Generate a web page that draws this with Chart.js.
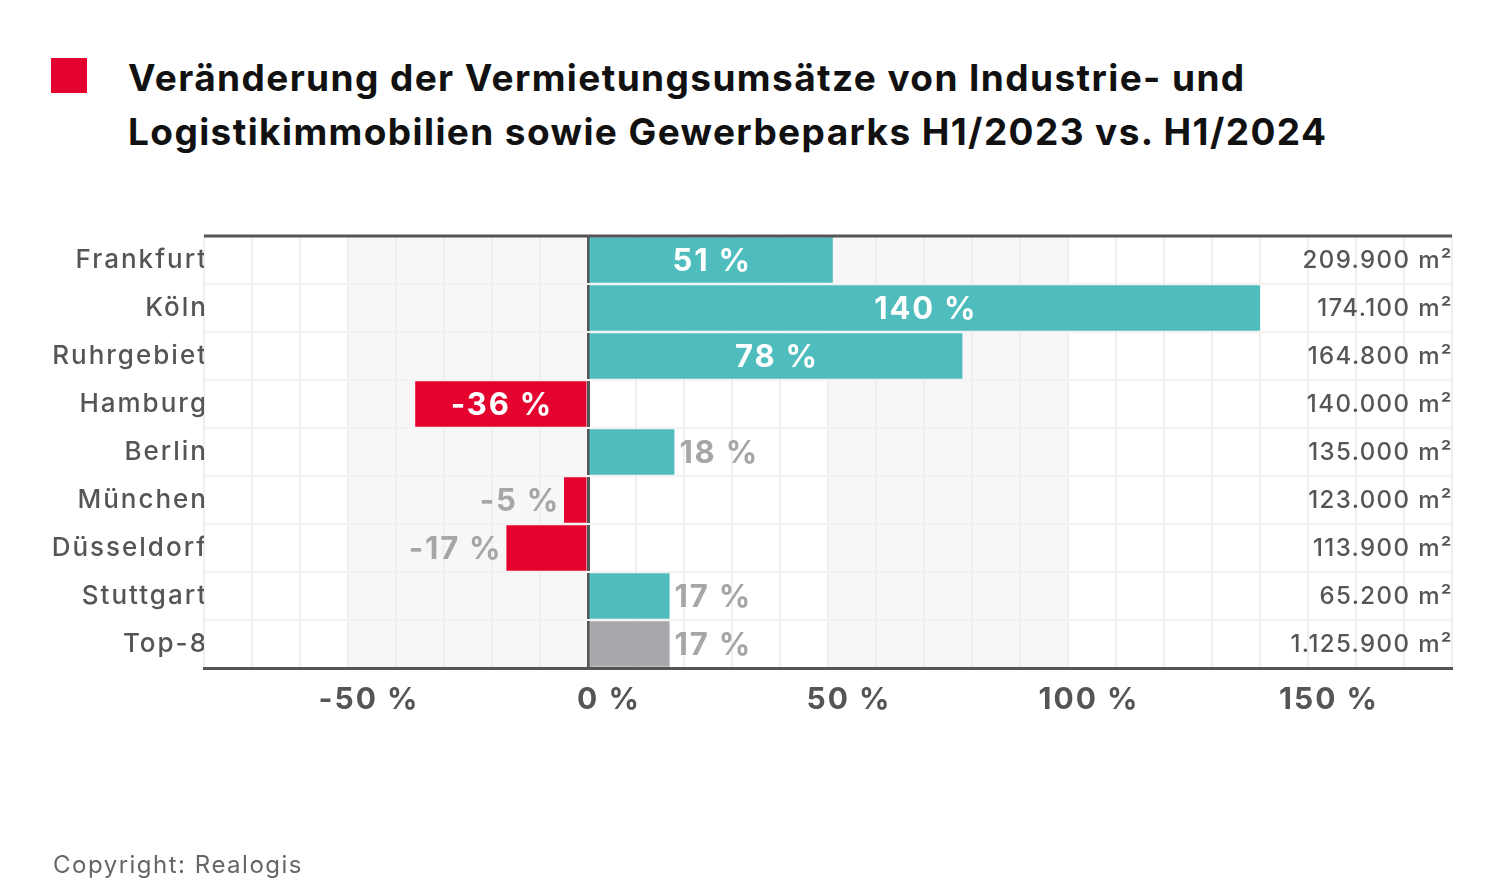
<!DOCTYPE html>
<html>
<head>
<meta charset="utf-8">
<script src="https://cdn.jsdelivr.net/npm/chart.js@4.4.1/dist/chart.umd.min.js"></script>
<style>
  html, body { margin: 0; padding: 0; background: #fff; }
  body { width: 1506px; height: 886px; position: relative; overflow: hidden; font-family: Inter, "DejaVu Sans", sans-serif; }
  #marker { position: absolute; left: 51px; top: 58px; width: 36px; height: 35px; background: #e4032e; }
  #title { position: absolute; left: 128px; top: 51px; margin: 0; font-size: 37px; font-weight: 700; line-height: 54px; color: #111; letter-spacing: 1.4px; white-space: nowrap; }
  #copy { position: absolute; left: 53px; top: 850px; font-size: 24px; color: #666; letter-spacing: 1.5px; }
  canvas { position: absolute; left: 0; top: 0; }
</style>
</head>
<body>
<div id="marker"></div>
<h1 id="title">Veränderung der Vermietungsumsätze von Industrie- und<br>Logistikimmobilien sowie Gewerbeparks H1/2023 vs. H1/2024</h1>
<canvas id="chart" width="1506" height="886"></canvas>
<div id="copy">Copyright: Realogis</div>
<script>
// Daten
const cities = ["Frankfurt", "Köln", "Ruhrgebiet", "Hamburg", "Berlin", "München", "Düsseldorf", "Stuttgart", "Top-8"];
const changePct = [51, 140, 78, -36, 18, -5, -17, 17, 17];
const areaSqm = [209900, 174100, 164800, 140000, 135000, 123000, 113900, 65200, 1125900];
const axisTicks = [-50, 0, 50, 100, 150];
const shadedRanges = [[-50, 0], [50, 100]];

const teal = "#4fbcbe";
const red = "#e4032e";
const grey = "#a9a8ad";
const textGrey = "#555555";

function formatArea(n) {
  return String(n).replace(/\B(?=(\d{3})+(?!\d))/g, ".") + " m²";
}

// Hintergrundbänder + obere Linie
const backgroundPlugin = {
  id: "bands",
  beforeDraw(chart) {
    const { ctx, chartArea, scales } = chart;
    ctx.save();
    ctx.fillStyle = "#f7f7f7";
    shadedRanges.forEach(r => {
      const x1 = scales.x.getPixelForValue(r[0]);
      const x2 = scales.x.getPixelForValue(r[1]);
      ctx.fillRect(x1, chartArea.top, x2 - x1, chartArea.bottom - chartArea.top);
    });
    ctx.restore();
    // breitere Schrift wie im Original
    ctx.letterSpacing = "2px";
  },
  afterDraw(chart) {
    const { ctx, chartArea } = chart;
    ctx.save();
    ctx.strokeStyle = textGrey;
    ctx.lineWidth = 3;
    ctx.beginPath();
    ctx.moveTo(chartArea.left, chartArea.top);
    ctx.lineTo(chartArea.right, chartArea.top);
    ctx.stroke();
    ctx.restore();
  }
};

// Wertbeschriftungen
const labelPlugin = {
  id: "labels",
  afterDatasetsDraw(chart) {
    const { ctx, chartArea } = chart;
    const meta = chart.getDatasetMeta(0);
    ctx.save();
    ctx.textBaseline = "middle";
    meta.data.forEach((bar, i) => {
      const v = changePct[i];
      const txt = v + " %";
      ctx.font = "700 31px Inter, 'DejaVu Sans', sans-serif";
      ctx.letterSpacing = "1.8px";
      if (Math.abs(v) >= 30) {
        ctx.fillStyle = "#ffffff";
        ctx.textAlign = "center";
        ctx.fillText(txt, (bar.x + bar.base) / 2 + 1, bar.y + 2);
      } else {
        ctx.fillStyle = "#a6a6a6";
        if (v >= 0) {
          ctx.textAlign = "left";
          ctx.fillText(txt, bar.x + 5, bar.y + 2);
        } else {
          ctx.textAlign = "right";
          ctx.fillText(txt, bar.x - 4, bar.y + 2);
        }
      }
      ctx.font = "500 24px Inter, 'DejaVu Sans', sans-serif";
      ctx.letterSpacing = "1.4px";
      ctx.fillStyle = textGrey;
      ctx.textAlign = "right";
      ctx.fillText(formatArea(areaSqm[i]), chartArea.right + 1, bar.y + 1);
    });
    ctx.restore();
  }
};

new Chart(document.getElementById("chart"), {
  type: "bar",
  data: {
    labels: cities,
    datasets: [{
      data: changePct,
      backgroundColor: changePct.map((v, i) => i === changePct.length - 1 ? grey : (v < 0 ? red : teal)),
      barPercentage: 1,
      categoryPercentage: 0.95,
      borderWidth: 0
    }]
  },
  options: {
    indexAxis: "y",
    responsive: false,
    animation: false,
    layout: { padding: { top: 236, right: 54, bottom: 158, left: 0 } },
    plugins: { legend: { display: false }, tooltip: { enabled: false } },
    scales: {
      x: {
        min: -80,
        max: 180,
        afterFit(scale) { scale.height = 60; },
        afterBuildTicks(scale) {
          const t = [];
          for (let v = -80; v <= 180; v += 10) t.push({ value: v });
          scale.ticks = t;
        },
        ticks: {
          autoSkip: false,
          maxRotation: 0,
          padding: 14,
          labelOffset: 21,
          color: textGrey,
          font: { family: "Inter, 'DejaVu Sans', sans-serif", size: 30, weight: "700" },
          callback: v => axisTicks.includes(v) ? v + " %" : ""
        },
        grid: {
          drawTicks: false,
          color: c => c.tick && c.tick.value === 0 ? textGrey : "#efefef",
          lineWidth: c => c.tick && c.tick.value === 0 ? 3 : 2
        },
        border: { display: true, color: textGrey, width: 3 }
      },
      y: {
        afterFit(scale) { scale.width = 204; },
        ticks: {
          padding: -4,
          color: textGrey,
          font: { family: "Inter, 'DejaVu Sans', sans-serif", size: 26, weight: "500" }
        },
        grid: { offset: true, drawTicks: false, color: "#f2f2f2", lineWidth: 2 },
        border: { display: false }
      }
    }
  },
  plugins: [backgroundPlugin, labelPlugin]
});
</script>
</body>
</html>
